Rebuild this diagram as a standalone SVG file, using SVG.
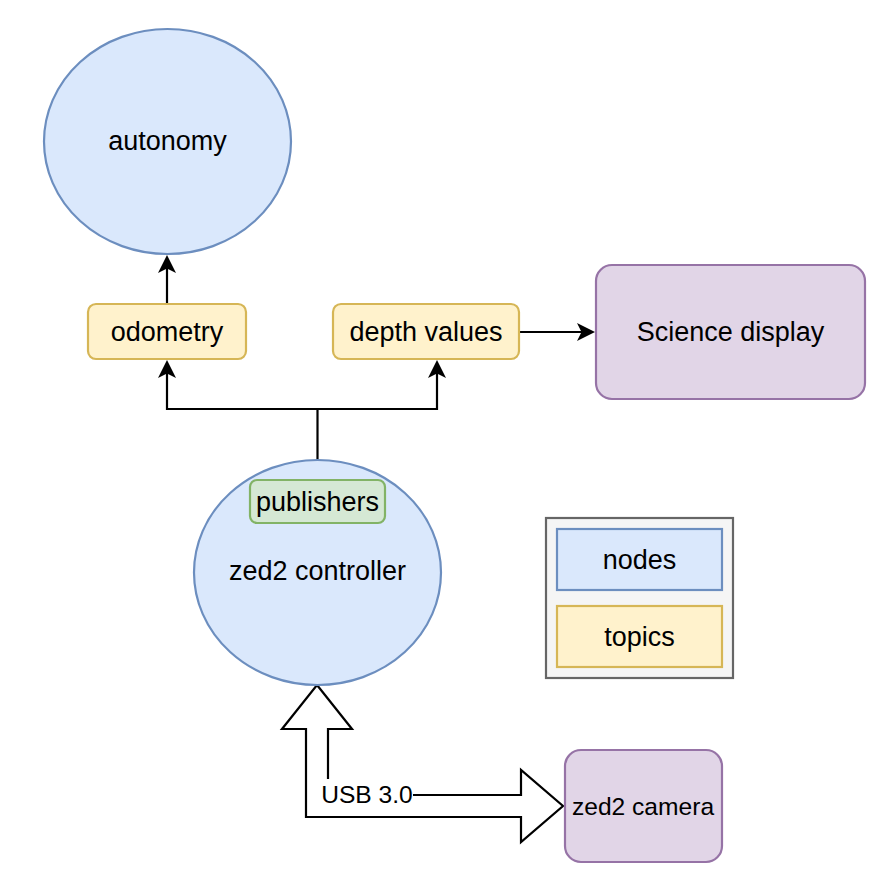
<svg xmlns="http://www.w3.org/2000/svg" width="875" height="875" viewBox="0 0 875 875">
<style>
text{font-family:"Liberation Sans",Arial,sans-serif;font-size:27px;fill:#000;text-anchor:middle;dominant-baseline:central}
.small{font-size:24.6px}
.blue{fill:#dae8fc;stroke:#6c8ebf;stroke-width:2.2}
.yellow{fill:#fff2cc;stroke:#d6b656;stroke-width:2.2}
.purple{fill:#e1d5e7;stroke:#9673a6;stroke-width:2.2}
.green{fill:#d5e8d4;stroke:#82b366;stroke-width:2.2}
.edge{fill:none;stroke:#000;stroke-width:2.2}
</style>
<defs>
<marker id="arr" markerUnits="userSpaceOnUse" markerWidth="20" markerHeight="20" refX="14" refY="10" orient="auto" overflow="visible">
<path d="M18,10 L0,1 L4.5,10 L0,19 Z" fill="#000"/>
</marker>
</defs>
<rect width="875" height="875" fill="#fff"/>
<g id="connectors">
<path class="edge" d="M167,304 L167,259" marker-end="url(#arr)"/>
<path class="edge" d="M519,332 L591,332" marker-end="url(#arr)"/>
<path class="edge" d="M317.5,460 L317.5,409 L167,409 L167,364" marker-end="url(#arr)"/>
<path class="edge" d="M317.5,409 L437,409 L437,364" marker-end="url(#arr)"/>
<g id="usb-link">
<path d="M317,685 L352,729 L328,729 L328,795 L521,795 L521,770 L563,806 L521,842 L521,817 L306,817 L306,729 L282,729 Z" fill="#fff" stroke="#000" stroke-width="2.2" stroke-linejoin="miter"/>
<rect x="321" y="779" width="92" height="30" fill="#fff"/>
<text class="small" x="367" y="794.5">USB 3.0</text>
</g>
</g>
<g id="autonomy">
<ellipse class="blue" cx="167.5" cy="141.5" rx="123.5" ry="112.5"/>
<text x="167.5" y="141">autonomy</text>
</g>
<g id="odometry">
<rect class="yellow" x="88" y="304" width="158" height="55" rx="8"/>
<text x="167" y="332">odometry</text>
</g>
<g id="depth-values">
<rect class="yellow" x="333" y="304" width="186" height="55" rx="8"/>
<text x="426" y="332">depth values</text>
</g>
<g id="science-display">
<rect class="purple" x="596" y="265" width="269" height="134" rx="16"/>
<text x="730.5" y="332">Science display</text>
</g>
<g id="zed2-controller">
<ellipse class="blue" cx="317.5" cy="572.5" rx="123.5" ry="112.5"/>
<text x="317.5" y="571">zed2 controller</text>
</g>
<g id="publishers">
<rect class="green" x="250" y="480" width="135" height="43" rx="7"/>
<text x="317.5" y="501.5">publishers</text>
</g>
<g id="zed2-camera">
<rect class="purple" x="565" y="750" width="157" height="112" rx="16"/>
<text class="small" x="643" y="806.5">zed2 camera</text>
</g>
<g id="legend">
<rect x="546" y="518" width="187" height="160" fill="#f5f5f5" stroke="#666666" stroke-width="2.2"/>
<rect class="blue" x="557" y="529" width="165" height="61"/>
<text x="639.5" y="559.5">nodes</text>
<rect class="yellow" x="557" y="606" width="165" height="61"/>
<text x="639.5" y="636.5">topics</text>
</g>
</svg>
